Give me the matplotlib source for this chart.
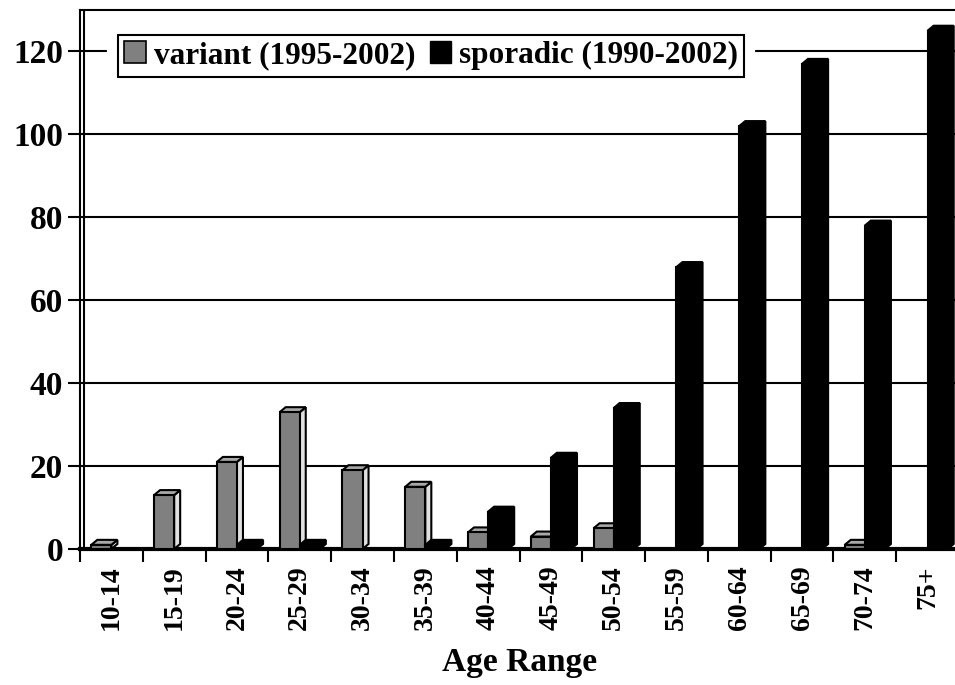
import matplotlib
matplotlib.use('Agg')
import matplotlib.pyplot as plt
import matplotlib.patheffects as pe
from matplotlib.patches import Polygon, Patch
import numpy as np

# ── Data ──────────────────────────────────────────────────────────────────
age_ranges = ['10-14', '15-19', '20-24', '25-29', '30-34', '35-39', '40-44',
              '45-49', '50-54', '55-59', '60-64', '65-69', '70-74', '75+']
variant  = [1, 13, 21, 33, 19, 15, 4, 3, 5, 0, 0, 0, 1, 0]
sporadic = [0, 0, 1, 1, 0, 1, 9, 22, 34, 68, 102, 117, 78, 125]
series_labels = ['variant (1995-2002)', 'sporadic (1990-2002)']
y_ticks = [0, 20, 40, 60, 80, 100, 120]

# ── Style ─────────────────────────────────────────────────────────────────
plt.rcParams['font.family'] = ['Liberation Serif', 'DejaVu Serif']
plt.rcParams['font.weight'] = 'bold'

FIG_W, FIG_H, DPI = 9.55, 6.85, 100
Y_MAX    = 130
BAR_W    = 0.32
DEPTH_PX = (6, 5)        # 3-D depth of the bars, in pixels (right, up)
GREY     = '#808080'
EDGE_LW  = 1.5

fig = plt.figure(figsize=(FIG_W, FIG_H), dpi=DPI)
ax = fig.add_axes([80 / 955, 1 - 549 / 685, 879 / 955, 539 / 685])
n = len(age_ranges)
ax.set_xlim(-0.5, n - 0.5)
ax.set_ylim(0, Y_MAX)

# pixel depth -> data units
ax_w_px = ax.get_position().width * FIG_W * DPI
ax_h_px = ax.get_position().height * FIG_H * DPI
dx = DEPTH_PX[0] * n / ax_w_px
dy = DEPTH_PX[1] * Y_MAX / ax_h_px


def depth_faces(x0, h, side, top, z):
    if h <= 0:
        return
    x1 = x0 + BAR_W
    ax.add_patch(Polygon([(x1, 0), (x1 + dx, dy), (x1 + dx, h + dy), (x1, h)],
                         closed=True, fc=side, ec='black', lw=EDGE_LW, zorder=z))
    ax.add_patch(Polygon([(x0, h), (x1, h), (x1 + dx, h + dy), (x0 + dx, h + dy)],
                         closed=True, fc=top, ec='black', lw=EDGE_LW, zorder=z))


# ── Bars ──────────────────────────────────────────────────────────────────
x = np.arange(n)
for i in range(n):
    depth_faces(x[i] - BAR_W, variant[i], '#e0e0e0', '#a8a8a8', 2)
    depth_faces(x[i], sporadic[i], 'black', 'black', 4)
ax.bar(x - BAR_W, variant, width=BAR_W, align='edge', color=GREY,
       edgecolor='black', lw=EDGE_LW, zorder=3)
ax.bar(x, sporadic, width=BAR_W, align='edge', color='black',
       edgecolor='black', lw=EDGE_LW, zorder=5)

# ── Axes ──────────────────────────────────────────────────────────────────
ax.yaxis.grid(True, color='black', lw=1.5)
ax.set_axisbelow(True)
ax.set_yticks(y_ticks)
ax.tick_params(axis='y', length=9, width=1.5, labelsize=24, pad=3)

ax.set_xticks(x)
ax.set_xticklabels(age_ranges, rotation=90, fontsize=20)
ax.tick_params(axis='x', which='major', length=0, pad=12)
ax.set_xticks(np.arange(-0.5, n, 1), minor=True)
ax.tick_params(axis='x', which='minor', length=9, width=1.5, direction='out')

ax.spines['left'].set_linewidth(1.5)
ax.spines['top'].set_linewidth(1.5)
ax.spines['bottom'].set_linewidth(3)
ax.spines['right'].set_visible(False)
ax.axvline(-0.5 + 4 * n / ax_w_px, color='black', lw=1.5, zorder=1)

ax.text(0.5, -0.2115, 'Age Range', transform=ax.transAxes,
        ha='center', va='center', fontsize=24)

# ── Legend ────────────────────────────────────────────────────────────────
handles = [Patch(fc=GREY, ec='black', lw=1.2), Patch(fc='black', ec='black')]
leg = ax.legend(handles, series_labels, ncol=2, loc='upper left',
                bbox_to_anchor=((118 - 80) / 879, (549 - 35) / 539),
                borderaxespad=0, prop={'size': 22.5, 'weight': 'bold'},
                handlelength=0.7, handleheight=0.7, handletextpad=0.25,
                columnspacing=0.45, borderpad=0.2, fancybox=False,
                edgecolor='black', framealpha=1)
leg.get_frame().set_linewidth(1.5)
leg.get_frame().set_path_effects([pe.withStroke(linewidth=16, foreground='white')])
leg.set_zorder(10)

fig.savefig('out.png', dpi=DPI)
